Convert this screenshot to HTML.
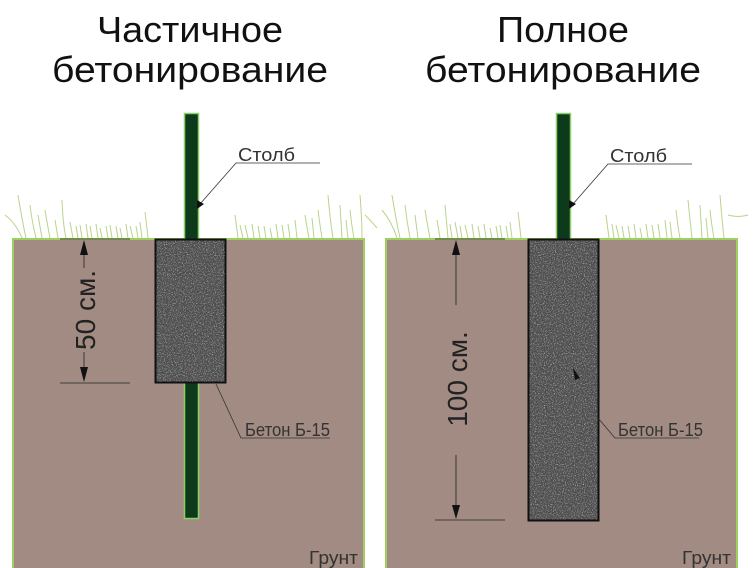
<!DOCTYPE html>
<html><head><meta charset="utf-8"><style>
html,body{margin:0;padding:0;background:#fff;}
svg{display:block;}
</style></head><body>
<svg width="754" height="568" viewBox="0 0 754 568" xmlns="http://www.w3.org/2000/svg">
<defs>
<filter id="noise" x="0" y="0" width="100%" height="100%">
<feTurbulence type="fractalNoise" baseFrequency="0.9" numOctaves="2" seed="3" result="t"/>
<feColorMatrix in="t" type="matrix" values="0 0 0 0 0.6  0 0 0 0 0.6  0 0 0 0 0.6  0 0 0 2.0 -1.05" result="n"/>
<feComposite in="n" in2="SourceGraphic" operator="in" result="m"/>
<feMerge><feMergeNode in="SourceGraphic"/><feMergeNode in="m"/></feMerge>
</filter>
</defs>

<g font-family="'Liberation Sans Narrow','Liberation Sans',sans-serif" font-size="36" fill="#111" text-anchor="middle">
<text x="190" y="42" textLength="186" lengthAdjust="spacingAndGlyphs">Частичное</text>
<text x="190" y="82" textLength="276" lengthAdjust="spacingAndGlyphs">бетонирование</text>
<text x="563" y="42" textLength="132" lengthAdjust="spacingAndGlyphs">Полное</text>
<text x="563" y="82" textLength="276" lengthAdjust="spacingAndGlyphs">бетонирование</text>
</g>

<!-- grass -->
<g stroke="#b9d48a" stroke-width="1" fill="none">
<path d="M5,215 Q15,222 22,238 M18,195 Q22,220 26,238 M30,205 Q32,222 36,238 M38,215 L42,238 M45,210 Q48,228 50,238 M55,220 L58,238 M62,200 Q63,225 66,238 M70,222 L73,238 M76,226 L78,238 M80,225 L82,238 M86,224 L88,238 M90,226 L92,238 M96,224 L98,238 M100,228 L102,238 M106,226 L108,238 M110,225 L112,238 M116,226 L118,238 M120,228 L122,238 M126,224 L128,238 M130,226 L133,238 M136,226 L138,238 M140,222 L142,238 M145,212 Q147,228 148,238"/>
<path d="M235,215 L238,238 M240,225 L243,238 M245,225 L248,238 M252,224 L254,238 M258,226 L260,238 M264,226 L266,238 M270,228 L272,238 M276,224 L278,238 M282,225 L284,238 M288,224 L290,238 M295,220 L297,238 M305,215 Q307,228 309,238 M312,218 L314,238 M318,210 Q320,226 322,238 M328,195 Q330,220 333,238 M340,205 L342,238 M346,220 L348,238 M350,210 Q352,228 354,238 M360,195 Q362,220 362,238 M365,215 Q372,222 377,228"/>
<path d="M382,210 Q392,222 397,238 M392,195 Q396,220 400,238 M405,205 Q407,222 410,238 M415,215 L418,238 M425,210 Q428,228 430,238 M437,220 L440,238 M445,205 L448,238 M450,224 L452,238 M455,222 L458,238 M460,226 L462,238 M465,225 L468,238 M472,224 L474,238 M478,226 L480,238 M484,224 L486,238 M490,228 L492,238 M496,226 L498,238 M500,225 L502,238 M506,226 L508,238 M510,222 L512,238 M518,212 Q520,228 521,238"/>
<path d="M606,215 L609,238 M612,224 L614,238 M616,225 L619,238 M622,226 L624,238 M628,226 L630,238 M634,224 L636,238 M640,228 L642,238 M646,224 L648,238 M652,225 L654,238 M658,224 L660,238 M665,220 L667,238 M670,222 L672,238 M676,210 Q678,228 680,238 M688,200 Q690,220 692,238 M700,205 L702,238 M706,218 L708,238 M710,210 Q712,228 714,238 M720,195 Q722,220 724,238 M728,215 Q738,218 748,215"/>
</g>

<!-- soil -->
<rect x="13" y="239" width="351" height="330" fill="#a28b82" stroke="#9fcf60" stroke-width="2"/>
<rect x="386" y="239" width="351" height="330" fill="#a28b82" stroke="#9fcf60" stroke-width="2"/>

<!-- posts -->
<rect x="184.5" y="113.5" width="14" height="405" fill="#0d3a1a" stroke="#8fcf6a" stroke-width="1.5"/>
<rect x="556.5" y="113.5" width="14" height="126" fill="#0d3a1a" stroke="#8fcf6a" stroke-width="1.5"/>

<!-- concrete -->
<rect x="155.5" y="239.5" width="70" height="143" fill="#505050" stroke="#111" stroke-width="2" filter="url(#noise)"/>
<rect x="528.5" y="239.5" width="70" height="281" fill="#505050" stroke="#111" stroke-width="2" filter="url(#noise)"/>
<rect x="155.5" y="239.5" width="70" height="143" fill="none" stroke="#111" stroke-width="2"/>
<rect x="528.5" y="239.5" width="70" height="281" fill="none" stroke="#111" stroke-width="2"/>

<!-- dimension lines -->
<g stroke="#222" stroke-width="0.8">
<line x1="60" y1="239" x2="130" y2="239"/>
<line x1="60" y1="383" x2="130" y2="383"/>
<line x1="84" y1="255" x2="84" y2="268"/>
<line x1="84" y1="352" x2="84" y2="367"/>
<line x1="435" y1="239" x2="505" y2="239"/>
<line x1="435" y1="520" x2="505" y2="520"/>
<line x1="456" y1="255" x2="456" y2="305"/>
<line x1="456" y1="455" x2="456" y2="505"/>
</g>
<path d="M80,255 L88,255 L84,240 Z" fill="#111"/>
<path d="M80,367 L88,367 L84,382 Z" fill="#111"/>
<path d="M452,255 L460,255 L456,240 Z" fill="#111"/>
<path d="M452,505 L460,505 L456,519 Z" fill="#111"/>
<g font-family="'Liberation Sans',sans-serif" font-size="28" fill="#222" text-anchor="middle">
<text transform="translate(95,310) rotate(-90)">50 см.</text>
<text transform="translate(467,379) rotate(-90)">100 см.</text>
</g>

<!-- leaders -->
<g stroke="#333" stroke-width="0.8" fill="none">
<polyline points="320,163 236,163 200,204"/>
<polyline points="692,164 608,164 573,204"/>
<polyline points="330,438 241,438 216,384"/>
<polyline points="699,438 615,438 598,418"/>
</g>
<path d="M197,200 L204,204 L197,209 Z" fill="#111"/>
<path d="M569,200 L576,204 L569,209 Z" fill="#111"/>
<path d="M573,368 L580,378 L575,380 Z" fill="#111"/>

<g font-family="'Liberation Sans',sans-serif" font-size="18" fill="#333">
<text x="238" y="161" textLength="57" lengthAdjust="spacingAndGlyphs">Столб</text>
<text x="610" y="162" textLength="57" lengthAdjust="spacingAndGlyphs">Столб</text>
<text x="245" y="436" textLength="85" lengthAdjust="spacingAndGlyphs">Бетон Б-15</text>
<text x="618" y="436" textLength="85" lengthAdjust="spacingAndGlyphs">Бетон Б-15</text>
<text x="309" y="564" textLength="49" lengthAdjust="spacingAndGlyphs">Грунт</text>
<text x="682" y="564" textLength="49" lengthAdjust="spacingAndGlyphs">Грунт</text>
</g>
</svg>
</body></html>
